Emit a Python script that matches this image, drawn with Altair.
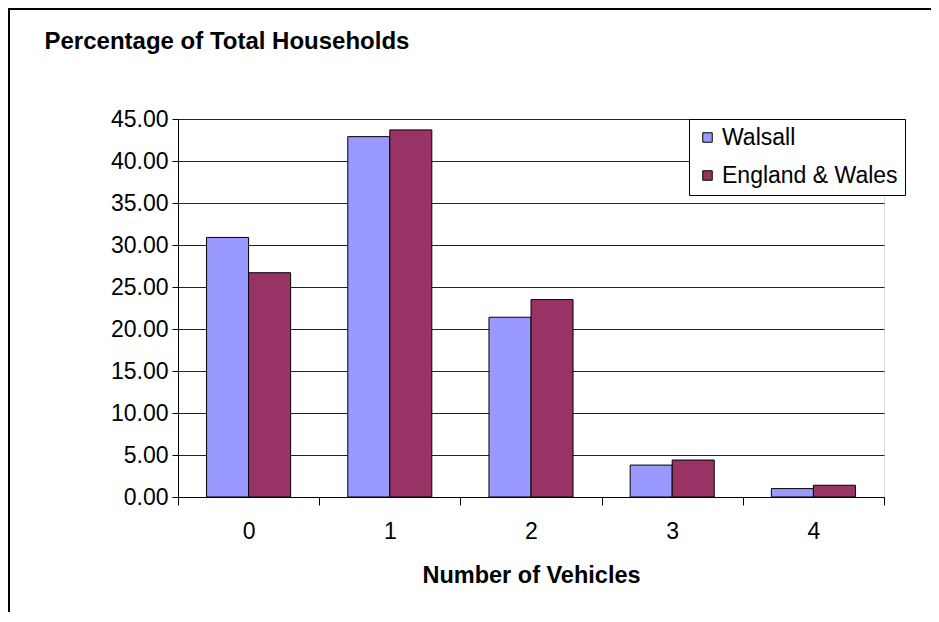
import altair as alt
import pandas as pd

vehicles = ["0", "1", "2", "3", "4"]
series = ["Walsall", "England & Wales"]
walsall = [30.9, 42.9, 21.4, 3.8, 1.0]
england = [26.7, 43.7, 23.5, 4.4, 1.4]
colors = ["#9999FF", "#993366"]
y_ticks = [0, 5, 10, 15, 20, 25, 30, 35, 40, 45]

rows = []
for i, v in enumerate(vehicles):
    rows.append({"vehicles": v, "series": series[0], "pct": walsall[i]})
    rows.append({"vehicles": v, "series": series[1], "pct": england[i]})
df = pd.DataFrame(rows)

FONT = "Liberation Sans"
W, H = 706, 378

bars = alt.Chart(df).mark_bar(stroke="black", strokeWidth=1).encode(
    x=alt.X(
        "vehicles:N",
        sort=vehicles,
        scale=alt.Scale(paddingInner=0, paddingOuter=0),
        axis=alt.Axis(
            title="Number of Vehicles",
            labelAngle=0,
            labelFontSize=23,
            labelColor="black",
            labelPadding=15,
            tickBand="extent",
            tickSize=8,
            tickColor="black",
            domainColor="black",
            grid=False,
            titleFontSize=23.5,
            titleFontWeight="bold",
            titleColor="black",
            titleY=85,
            titleBaseline="alphabetic",
        ),
    ),
    xOffset=alt.XOffset(
        "series:N", sort=series, scale=alt.Scale(paddingInner=0, paddingOuter=0.68)
    ),
    y=alt.Y(
        "pct:Q",
        scale=alt.Scale(domain=[0, 45], nice=False),
        axis=alt.Axis(
            values=y_ticks,
            format=".2f",
            title="Percentage of Total Households",
            titleAngle=0,
            titleAlign="left",
            titleBaseline="alphabetic",
            titleX=-134,
            titleY=-71,
            titleFontSize=24,
            titleFontWeight="bold",
            titleColor="black",
            labelFontSize=23,
            labelColor="black",
            labelPadding=4,
            tickSize=6,
            tickColor="black",
            domainColor="black",
            gridColor="#222222",
            gridWidth=1,
        ),
    ),
    color=alt.Color(
        "series:N",
        sort=series,
        scale=alt.Scale(domain=series, range=colors),
        legend=alt.Legend(
            title=None,
            orient="none",
            legendX=511,
            legendY=0,
            fillColor="white",
            strokeColor="black",
            padding=7,
            labelFontSize=23,
            labelColor="black",
            labelOffset=3,
            labelLimit=400,
            symbolType="square",
            symbolSize=90,
            symbolStrokeColor="black",
            symbolStrokeWidth=1,
            rowPadding=14,
        ),
    ),
)

frame_data = alt.Data(values=[{"a": 1}])
frame_top = alt.Chart(frame_data).mark_rule(color="black", strokeWidth=2).encode(
    x=alt.value(-169),
    x2=alt.value(760),
    y=alt.value(-110),
)
frame_left = alt.Chart(frame_data).mark_rule(color="black", strokeWidth=2).encode(
    x=alt.value(-169),
    y=alt.value(-111),
    y2=alt.value(600),
)

chart = alt.layer(frame_top, frame_left, bars).properties(
    width=W,
    height=H,
    background="white",
    autosize=alt.AutoSizeParams(type="none"),
    padding={"left": 170, "top": 111, "right": 47, "bottom": 115},
).configure_view(
    fill="#C0C0C0", stroke="#808080", strokeWidth=1
).configure(font=FONT)

chart.save("out.html", embed_options={"renderer": "svg", "actions": False})
